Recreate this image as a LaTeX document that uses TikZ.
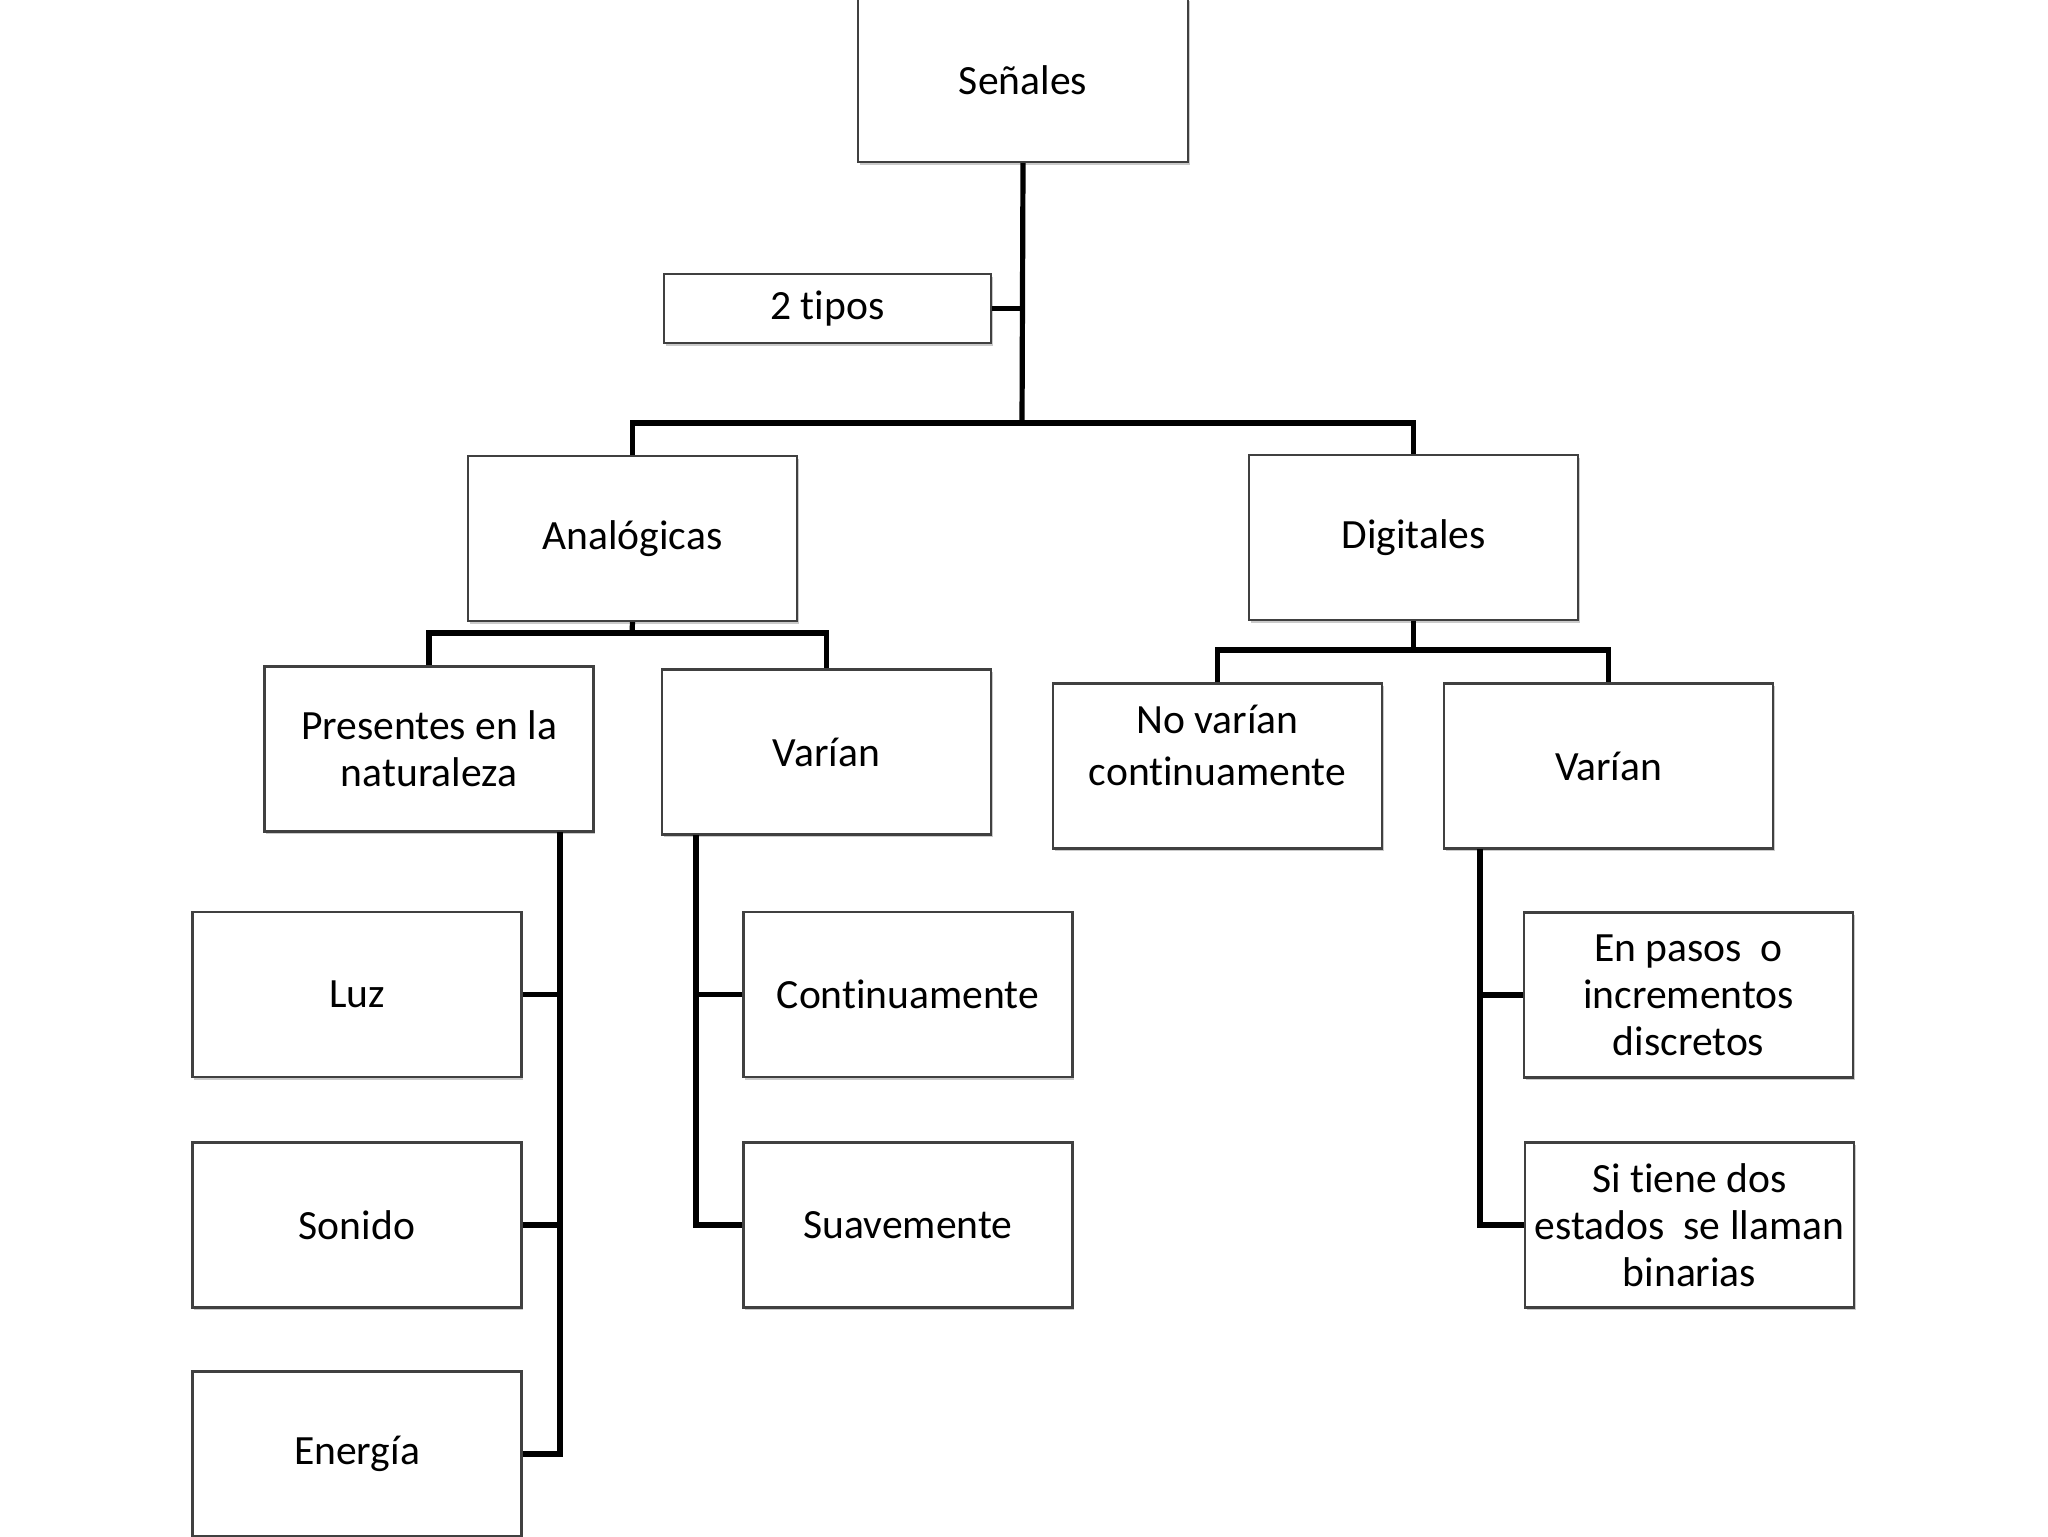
\documentclass[tikz,border=0pt]{standalone}
\usepackage{fontspec}
\setmainfont{Carlito}[Ligatures={NoCommon}]
\usetikzlibrary{shadows}
\tikzset{
  bxtext/.style={inner sep=0pt, align=center, font=\fontsize{20.8}{23.5}\selectfont},
  bx/.style={bxtext, draw=black!75, line width=1.1pt, fill=white,
    minimum width=164.5pt, minimum height=82.5pt,
    drop shadow={shadow xshift=0.9pt, shadow yshift=-1.4pt, opacity=0.35, fill=black!60}},
  conn/.style={line width=2.6pt, black},
}
\begin{document}
\begin{tikzpicture}[x=0.5pt,y=-0.5pt]
\useasboundingbox (0,0) rectangle (2048,1536);
\node[bx, minimum width=165pt, minimum height=82pt] (senales) at (1023,80) {Señales};
\node[bx, minimum width=163.5pt, minimum height=34.5pt] (tipos) at (827.5,308.5) {2 tipos};
\node[bx] (analog) at (632.5,538.5) {Analógicas};
\node[bx] (digit) at (1413.5,537.5) {Digitales};
\node[bx] (pres) at (429,749) {Presentes en la\\naturaleza};
\node[bx] (varA) at (826.5,752) {Varían};
\node[bx, label={[bxtext, yshift=10.5pt]center:No varían\\[2.5pt]continuamente}] (nova) at (1217.5,766) {};
\node[bx] (varD) at (1608.5,766) {Varían};
\node[bx] (luz) at (357,994.5) {Luz};
\node[bx] (sonido) at (357,1225) {Sonido};
\node[bx] (energia) at (357,1454) {Energía};
\node[bx] (cont) at (908,994.5) {Continuamente};
\node[bx] (suave) at (908,1225) {Suavemente};
\node[bx] (pasos) at (1688.5,995) {En pasos~ o\\incrementos\\discretos};
\node[bx] (sitiene) at (1689.5,1225) {Si tiene dos\\estados~ se llaman\\binarias};

\coordinate (bar1) at (1022,423);
\coordinate (abar) at (632,633);
\coordinate (dbar) at (1413.5,650);
\coordinate (ptop) at (560,832);
\coordinate (vatop) at (696,835);
\coordinate (vdtop) at (1480,849);

\draw[conn] (senales.south) -- (bar1);
\draw[conn] (tipos.east) -- (tipos.east -| bar1);
\draw[conn] (analog.north) |- (bar1) -| (digit.north);
\draw[conn] (analog.south) -- (abar);
\draw[conn] (pres.north) |- (abar) -| (varA.north);
\draw[conn] (digit.south) -- (dbar);
\draw[conn] (nova.north) |- (dbar) -| (varD.north);
\draw[conn] (ptop) |- (energia.east);
\draw[conn] (luz.east) -- (luz.east -| ptop);
\draw[conn] (sonido.east) -- (sonido.east -| ptop);
\draw[conn] (vatop) |- (suave.west);
\draw[conn] (cont.west) -- (cont.west -| vatop);
\draw[conn] (vdtop) |- (sitiene.west);
\draw[conn] (pasos.west) -- (pasos.west -| vdtop);
\end{tikzpicture}
\end{document}
